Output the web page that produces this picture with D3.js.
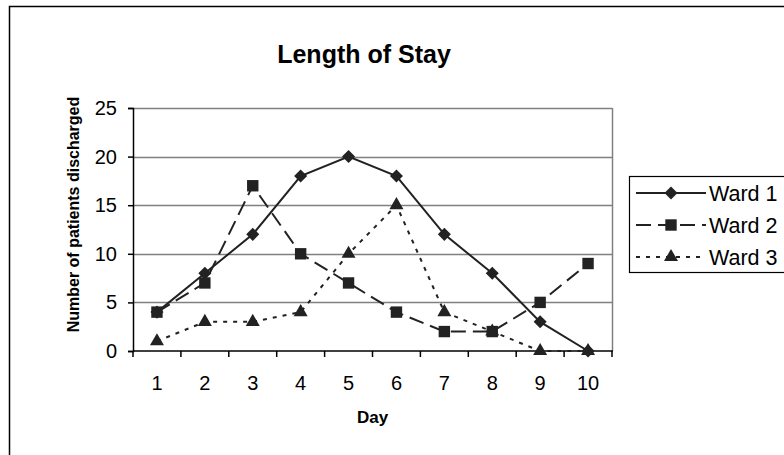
<!DOCTYPE html>
<html>
<head>
<meta charset="utf-8">
<script src="https://cdn.jsdelivr.net/npm/d3@7"></script>
<style>
  body { margin: 0; background: #fff; }
  svg { display: block; font-family: Arial, "Liberation Sans", sans-serif; }
</style>
</head>
<body>
<div id="chart"></div>
<script>
// data
const days = [1, 2, 3, 4, 5, 6, 7, 8, 9, 10];
const ward1 = [4, 8, 12, 18, 20, 18, 12, 8, 3, 0];
const ward2 = [4, 7, 17, 10, 7, 4, 2, 2, 5, 9];
const ward3 = [1, 3, 3, 4, 10, 15, 4, 2, 0, 0];
const yTicks = [0, 5, 10, 15, 20, 25];
const seriesNames = ['Ward 1', 'Ward 2', 'Ward 3'];

const width = 784, height = 455;
const plot = { left: 133, right: 612, top: 108, bottom: 351 };

const svg = d3.select('#chart').append('svg')
  .attr('width', width)
  .attr('height', height);

// outer chart border (runs off the right and bottom of the picture)
svg.append('rect')
  .attr('x', 9.5).attr('y', 6.5)
  .attr('width', 800).attr('height', 500)
  .attr('fill', '#fff')
  .attr('stroke', '#000')
  .attr('stroke-width', 1.5);

const x = d3.scaleBand()
  .domain(days)
  .range([plot.left, plot.right]);

const y = d3.scaleLinear()
  .domain([0, 25])
  .range([plot.bottom, plot.top]);

// gridlines
svg.append('g')
  .selectAll('line')
  .data(yTicks.filter(d => d > 0))
  .join('line')
  .attr('x1', plot.left).attr('x2', plot.right)
  .attr('y1', d => Math.round(y(d)) + 0.5)
  .attr('y2', d => Math.round(y(d)) + 0.5)
  .attr('stroke', '#808080')
  .attr('stroke-width', 1.5);

// right edge of plot area
svg.append('line')
  .attr('x1', plot.right + 0.5).attr('x2', plot.right + 0.5)
  .attr('y1', plot.top).attr('y2', plot.bottom)
  .attr('stroke', '#808080')
  .attr('stroke-width', 1.5);

// y axis
const yAxis = svg.append('g')
  .attr('transform', `translate(${plot.left},0)`)
  .call(d3.axisLeft(y).tickValues(yTicks).tickSize(5).tickPadding(11));
yAxis.select('.domain').attr('stroke', '#000').attr('stroke-width', 1.5);
yAxis.selectAll('.tick line').attr('stroke', '#000').attr('stroke-width', 1.5);
yAxis.selectAll('text')
  .attr('font-size', 20)
  .attr('fill', '#000')
  .style('font-family', 'Arial, "Liberation Sans", sans-serif');

// x axis: ticks on category boundaries
const xAxisG = svg.append('g')
  .attr('transform', `translate(0,${plot.bottom})`);
xAxisG.append('line')
  .attr('x1', plot.left).attr('x2', plot.right + 1)
  .attr('y1', 0).attr('y2', 0)
  .attr('stroke', '#000').attr('stroke-width', 1.5);
xAxisG.selectAll('line.tk')
  .data(days)
  .join('line')
  .attr('class', 'tk')
  .attr('x1', d => x(d) + x.bandwidth())
  .attr('x2', d => x(d) + x.bandwidth())
  .attr('y1', 0).attr('y2', 6)
  .attr('stroke', '#000').attr('stroke-width', 1.5);
xAxisG.append('line')
  .attr('x1', plot.left).attr('x2', plot.left)
  .attr('y1', 0).attr('y2', 6)
  .attr('stroke', '#000').attr('stroke-width', 1.5);
xAxisG.selectAll('text')
  .data(days)
  .join('text')
  .attr('x', d => x(d) + x.bandwidth() / 2)
  .attr('y', 39)
  .attr('text-anchor', 'middle')
  .attr('font-size', 20)
  .text(d => d);

// titles
svg.append('text')
  .attr('x', 364).attr('y', 63)
  .attr('text-anchor', 'middle')
  .attr('font-size', 25)
  .attr('font-weight', 'bold')
  .text('Length of Stay');

svg.append('text')
  .attr('x', (plot.left + plot.right) / 2).attr('y', 423)
  .attr('text-anchor', 'middle')
  .attr('font-size', 17)
  .attr('font-weight', 'bold')
  .text('Day');

svg.append('text')
  .attr('transform', `translate(79,${(plot.top + plot.bottom) / 2 - 15}) rotate(-90)`)
  .attr('text-anchor', 'middle')
  .attr('font-size', 16)
  .attr('font-weight', 'bold')
  .text('Number of patients discharged');

// series
const ink = '#222';
const series = [
  { name: seriesNames[0], values: ward1, dash: null, symbol: d3.symbolSquare, size: 85, rot: 45 },
  { name: seriesNames[1], values: ward2, dash: '15,7', symbol: d3.symbolSquare, size: 130, rot: 0 },
  { name: seriesNames[2], values: ward3, dash: '4,6', symbol: d3.symbolTriangle, size: 85, rot: 0 }
];

const line = d3.line()
  .x((d, i) => x(days[i]) + x.bandwidth() / 2)
  .y(d => y(d));

series.forEach(s => {
  svg.append('path')
    .datum(s.values)
    .attr('d', line)
    .attr('fill', 'none')
    .attr('stroke', ink)
    .attr('stroke-width', 2)
    .attr('stroke-dasharray', s.dash);
});

series.forEach(s => {
  svg.append('g')
    .selectAll('path')
    .data(s.values)
    .join('path')
    .attr('transform', (d, i) => `translate(${x(days[i]) + x.bandwidth() / 2},${y(d)}) rotate(${s.rot})`)
    .attr('d', d3.symbol().type(s.symbol).size(s.size))
    .attr('fill', ink);
});

// legend
const legend = svg.append('g');
legend.append('rect')
  .attr('x', 629.5).attr('y', 176.5)
  .attr('width', 200).attr('height', 96)
  .attr('fill', '#fff')
  .attr('stroke', '#000')
  .attr('stroke-width', 1.2);

const rows = legend.selectAll('g.row')
  .data(series)
  .join('g')
  .attr('class', 'row')
  .attr('transform', (d, i) => `translate(0,${193 + i * 32})`);
rows.append('line')
  .attr('x1', 636).attr('x2', 706)
  .attr('y1', 0).attr('y2', 0)
  .attr('stroke', ink)
  .attr('stroke-width', 2)
  .attr('stroke-dasharray', d => d.dash);
rows.append('path')
  .attr('transform', d => `translate(671,0) rotate(${d.rot})`)
  .attr('d', d => d3.symbol().type(d.symbol).size(d.size)())
  .attr('fill', ink);
rows.append('text')
  .attr('x', 709).attr('y', 7.5)
  .attr('font-size', 21.5)
  .text(d => d.name);
</script>
</body>
</html>
